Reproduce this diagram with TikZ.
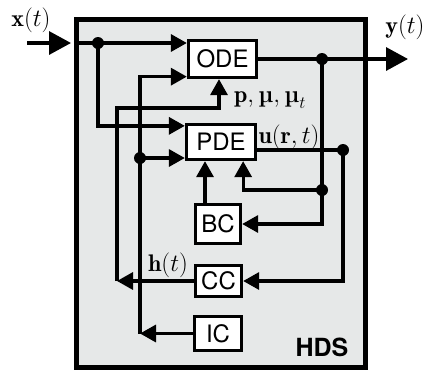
\documentclass[tikz,border=0pt]{standalone}
\usepackage{amsmath}
\usepackage{bm}
\usepackage{fontspec}
\setsansfont{TeX Gyre Heros}
\usetikzlibrary{arrows.meta}
\definecolor{hdsgray}{RGB}{230, 232, 232}
\newcommand{\bmu}{\textbf{\symbol{"00B5}}}
\begin{document}
\begin{tikzpicture}[
  x=1pt, y=-1pt,
  line width=3.3pt,
  blk/.style={draw, fill=white, line width=3.3pt, inner sep=0pt,
    font=\sffamily\fontsize{24}{24}\selectfont},
  arr/.style={-{Triangle[length=16pt, width=17pt]}},
  bigarr/.style={-{Triangle[length=22pt, width=23pt]}},
  jdot/.style={circle, fill, inner sep=0pt, minimum size=12pt},
  sig/.style={font=\fontsize{24}{24}\selectfont, inner sep=1pt}
]
\useasboundingbox (0,0) rectangle (427,373);

% System frame
\node[draw, line width=5.5pt, fill=hdsgray, inner sep=0pt,
  minimum width=289pt, minimum height=348pt] (hds) at (221,193.5) {};
\node[font=\sffamily\bfseries\fontsize{25}{25}\selectfont] (hdslbl) at (322,347) {HDS};

% Blocks
\node[blk, minimum width=68pt, minimum height=37pt] (ode) at (222.5,59) {ODE};
\node[blk, minimum width=69pt, minimum height=35pt] (pde) at (221,142) {PDE};
\node[blk, minimum width=45pt, minimum height=39pt] (bc) at (218,224) {BC};
\node[blk, minimum width=46pt, minimum height=31pt] (cc) at (218.5,281) {CC};
\node[blk, minimum width=47pt, minimum height=34pt] (ic) at (218,333.5) {IC};

% Junctions
\coordinate (xin) at (27,43);
\coordinate (bin) at (xin -| hds.west);
\coordinate (j1) at (98,43);
\coordinate (j2) at (322,59);
\coordinate (j3) at (322,190);
\coordinate (j4) at (343,150);
\coordinate (j5) at (140,158);
\coordinate (p1) at (117,108);
\coordinate (yout) at (408,59);

% Input x(t)
\draw[bigarr] (xin) -- ([xshift=-2.75pt]bin);
\draw[arr] (bin) -- (bin -| ode.west);
\draw[arr] (j1) |- ([yshift=-3pt]pde.north west);

% Output y(t) and feedback to BC / PDE
\draw[bigarr] (ode.east) -- (yout);
\draw[arr] (j2) |- (bc.east);
\draw[arr] (j3) -| ([xshift=-14pt]pde.south east);
\draw[arr] ([xshift=-13pt]bc.north) -- ([xshift=-13pt]bc.north |- pde.south);

% PDE output to CC
\draw (pde.east |- j4) -- (j4);
\draw[arr] (j4) |- (cc.east);

% CC output h(t) to ODE
\draw[arr] (cc.west) -- (cc.west -| p1);
\draw[arr] (cc.west -| p1) -- (p1) -| ([xshift=-3.5pt]ode.south);

% IC output to ODE and PDE
\draw[arr] (ic.west) -- (ic.west -| j5);
\draw[arr] (ic.west -| j5) |- ([yshift=2.5pt]ode.south west);
\draw[arr] (j5) -- (j5 -| pde.west);

% Dots
\foreach \j in {j1, j2, j3, j4, j5}
  \node[jdot] at (\j) {};

% Signal labels
\node[sig] (xlbl) at (31,20) {$\mathbf{x}(t)$};
\node[sig] (ylbl) at (405,27) {$\mathbf{y}(t)$};
\node[sig] (plbl) at (270,100) {$\mathbf{p},\text{\bmu},\text{\bmu}_t$};
\node[sig] (ulbl) at (289,137) {$\mathbf{u}(\mathbf{r},t)$};
\node[sig] (hlbl) at (168,265) {$\mathbf{h}(t)$};
\end{tikzpicture}
\end{document}
